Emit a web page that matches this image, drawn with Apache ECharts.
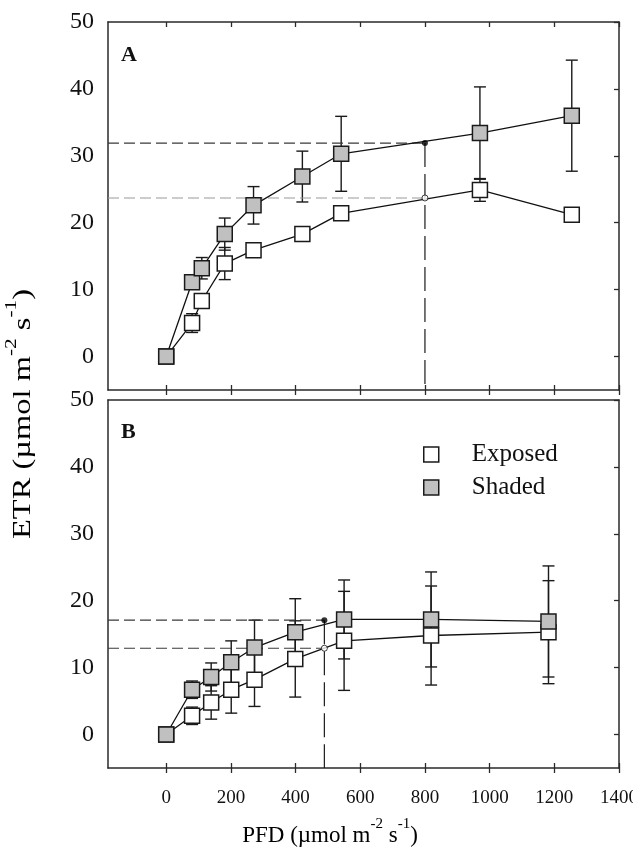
<!DOCTYPE html>
<html><head><meta charset="utf-8">
<script src="https://cdn.jsdelivr.net/npm/echarts@6/dist/echarts.min.js"></script>
<style>html,body{margin:0;padding:0;background:#fff}#c{width:633px;height:848px}</style>
</head><body><div id="c"></div>
<script>
// ---- data ----
const xTicks = [0, 200, 400, 600, 800, 1000, 1200, 1400];
const yTicks = [0, 10, 20, 30, 40, 50];
const rightTicks = [0, 10, 20, 30, 40, 50];

// Panel A
const pfdA = [0, 80, 110, 181, 270, 421, 541, 970, 1254];
const etrA_exposed = [0, 5.0, 8.3, 13.9, 15.9, 18.3, 21.4, 24.9, 21.2];
const errA_exposed = [0, 1.4, 0.9, 2.4, 0.8, 0.7, 0.8, 1.7, 0.8];
const etrA_shaded = [0, 11.1, 13.2, 18.3, 22.6, 26.9, 30.3, 33.4, 36.0];
const errA_shaded = [0, 0.8, 1.6, 2.4, 2.8, 3.8, 5.6, 6.9, 8.3];
const refA_x = 800, refA_shaded = 31.9, refA_exposed = 23.7;

// Panel B
const pfdB = [0, 80, 139, 201, 273, 399, 550, 819, 1182];
const etrB_exposed = [0, 2.8, 4.8, 6.7, 8.2, 11.3, 14.0, 14.8, 15.3];
const errB_exposed = [0, 1.3, 2.5, 3.5, 4.0, 5.7, 7.4, 7.4, 7.7];
const etrB_shaded = [0, 6.7, 8.6, 10.8, 13.0, 15.3, 17.2, 17.2, 16.9];
const errB_shaded = [0, 1.3, 2.1, 3.2, 4.1, 5.0, 5.9, 7.1, 8.3];
const refB_x = 489, refB_shaded = 17.1, refB_exposed = 12.9;

const panelLabels = ['A', 'B'];
const seriesNames = ['Exposed', 'Shaded'];

// ---- chart ----
const FONT = 'Liberation Serif';
const X_MIN = -180, X_MAX = 1400, Y_MIN = -5, Y_MAX = 50;
const AX = '#2a2a2a';
const chart = echarts.init(document.getElementById('c'), null, {renderer: 'canvas'});

const grids = [
  {left: 108, top: 22, width: 511, height: 368, containLabel: false, outerBoundsMode: 'none'},
  {left: 108, top: 400, width: 511, height: 368, containLabel: false, outerBoundsMode: 'none'}
];

const xAxes = [], yAxes = [];
grids.forEach((g, p) => {
  const base = {type: 'value', gridIndex: p, min: X_MIN, max: X_MAX, splitLine: {show: false}};
  xAxes.push(Object.assign({}, base, {
    position: 'bottom',
    axisLine: {show: true, onZero: false, lineStyle: {color: AX, width: 1.5}},
    axisTick: {show: true, inside: false, length: 5, customValues: xTicks, lineStyle: {color: AX, width: 1.3}},
    axisLabel: {show: p === 1, customValues: xTicks, formatter: v => String(v), hideOverlap: false,
                fontFamily: FONT, fontSize: 19, color: '#111', margin: 21}
  }));
  xAxes.push(Object.assign({}, base, {
    position: 'bottom',
    axisLine: {show: false, onZero: false},
    axisTick: {show: true, inside: true, length: 5, customValues: xTicks, lineStyle: {color: AX, width: 1.3}},
    axisLabel: {show: false}
  }));
  xAxes.push(Object.assign({}, base, {
    position: 'top',
    axisLine: {show: true, onZero: false, lineStyle: {color: AX, width: 1.5}},
    axisTick: {show: p === 0, inside: true, length: 5, customValues: xTicks, lineStyle: {color: AX, width: 1.3}},
    axisLabel: {show: false}
  }));
  const ybase = {type: 'value', gridIndex: p, min: Y_MIN, max: Y_MAX, splitLine: {show: false}};
  yAxes.push(Object.assign({}, ybase, {
    position: 'left',
    axisLine: {show: true, onZero: false, lineStyle: {color: AX, width: 1.5}},
    axisTick: {show: false},
    axisLabel: {customValues: yTicks, formatter: v => String(v), fontFamily: FONT, fontSize: 24, color: '#111', margin: 14}
  }));
  yAxes.push(Object.assign({}, ybase, {
    position: 'right',
    axisLine: {show: true, onZero: false, lineStyle: {color: AX, width: 1.5}},
    axisTick: {show: true, inside: true, length: 5, customValues: rightTicks, lineStyle: {color: AX, width: 1.3}},
    axisLabel: {show: false}
  }));
});

function errSeries(p, name, xs, ys, es) {
  const data = [];
  xs.forEach((x, i) => { if (es[i] > 0) data.push([x, ys[i], es[i]]); });
  return {
    type: 'custom', name: name + ' err', xAxisIndex: 3 * p, yAxisIndex: 2 * p,
    silent: true, clip: false,
    data: data,
    renderItem: function (params, api) {
      const x = api.value(0), y = api.value(1), e = api.value(2);
      const hi = api.coord([x, y + e]);
      const lo = api.coord([x, y - e]);
      const w = 6;
      const st = {stroke: '#1a1a1a', lineWidth: 1.4};
      return {type: 'group', children: [
        {type: 'line', shape: {x1: hi[0], y1: hi[1], x2: lo[0], y2: lo[1]}, style: st},
        {type: 'line', shape: {x1: hi[0] - w, y1: hi[1], x2: hi[0] + w, y2: hi[1]}, style: st},
        {type: 'line', shape: {x1: lo[0] - w, y1: lo[1], x2: lo[0] + w, y2: lo[1]}, style: st}
      ]};
    }
  };
}

function lineSeries(p, name, xs, ys, fill) {
  return {
    type: 'line', name: name, xAxisIndex: 3 * p, yAxisIndex: 2 * p,
    data: xs.map((x, i) => [x, ys[i]]),
    symbol: 'rect', symbolSize: 15, showAllSymbol: true,
    lineStyle: {color: '#111', width: 1.3},
    itemStyle: {color: fill, borderColor: '#1a1a1a', borderWidth: 1.5, opacity: 1},
    emphasis: {disabled: true}, animation: false
  };
}

function refSeries(p, rx, ys, ye) {
  const out = [];
  const hcols = p === 0 ? ['#3a3a3a', '#9a9a9a'] : ['#3a3a3a', '#3a3a3a'];
  [ys, ye].forEach((yv, k) => {
    out.push({
      type: 'line', xAxisIndex: 3 * p, yAxisIndex: 2 * p, symbol: 'none', silent: true,
      data: [[X_MIN, yv], [rx, yv]],
      lineStyle: {color: hcols[k], width: 1.1, type: [11, 5]}
    });
  });
  out.push({
    type: 'line', xAxisIndex: 3 * p, yAxisIndex: 2 * p, symbol: 'none', silent: true,
    data: [[rx, ys], [rx, Y_MIN]],
    lineStyle: {color: '#1a1a1a', width: 1.2, type: [24, 7]}
  });
  return out;
}

function dotSeries(p, rx, ys, ye) {
  return [
    {type: 'scatter', xAxisIndex: 3 * p, yAxisIndex: 2 * p, silent: true, symbol: 'circle', symbolSize: 6,
     data: [[rx, ys]], itemStyle: {color: '#000'}, z: 5},
    {type: 'scatter', xAxisIndex: 3 * p, yAxisIndex: 2 * p, silent: true, symbol: 'circle', symbolSize: 6,
     data: [[rx, ye]], itemStyle: {color: '#fff', borderColor: '#111', borderWidth: 1}, z: 5}
  ];
}

const panels = [
  {pfd: pfdA, ex: etrA_exposed, exErr: errA_exposed, sh: etrA_shaded, shErr: errA_shaded, rx: refA_x, rs: refA_shaded, re: refA_exposed},
  {pfd: pfdB, ex: etrB_exposed, exErr: errB_exposed, sh: etrB_shaded, shErr: errB_shaded, rx: refB_x, rs: refB_shaded, re: refB_exposed}
];

let series = [];
panels.forEach((d, p) => {
  series = series.concat(refSeries(p, d.rx, d.rs, d.re));
  series.push(errSeries(p, seriesNames[0], d.pfd, d.ex, d.exErr));
  series.push(lineSeries(p, seriesNames[0], d.pfd, d.ex, '#ffffff'));
  series.push(errSeries(p, seriesNames[1], d.pfd, d.sh, d.shErr));
  series.push(lineSeries(p, seriesNames[1], d.pfd, d.sh, '#c0c0c0'));
  series = series.concat(dotSeries(p, d.rx, d.rs, d.re));
});

const supRich = {
  n: {fontFamily: FONT, fontSize: 23, color: '#111', lineHeight: 30, verticalAlign: 'bottom'},
  s: {fontFamily: FONT, fontSize: 15, color: '#111', lineHeight: 16, verticalAlign: 'top'}
};
const supRichY = {
  n: {fontFamily: FONT, fontSize: 26, color: '#111', lineHeight: 33, verticalAlign: 'bottom'},
  s: {fontFamily: FONT, fontSize: 17, color: '#111', lineHeight: 17, verticalAlign: 'top'}
};

const option = {
  animation: false,
  backgroundColor: '#fff',
  grid: grids,
  xAxis: xAxes,
  yAxis: yAxes,
  legend: {
    orient: 'vertical', left: 418, top: 437, itemWidth: 15, itemHeight: 15, itemGap: 8,
    selectedMode: false,
    textStyle: {fontFamily: FONT, fontSize: 25, color: '#111', padding: [0, 0, 0, 28]},
    data: [
      {name: seriesNames[0], icon: 'rect', itemStyle: {color: '#fff', borderColor: '#1a1a1a', borderWidth: 1.5}},
      {name: seriesNames[1], icon: 'rect', itemStyle: {color: '#c0c0c0', borderColor: '#1a1a1a', borderWidth: 1.5}}
    ]
  },
  graphic: [
    {type: 'text', left: 121, top: 44, style: {text: panelLabels[0], font: 'bold 22px "Liberation Serif"', fill: '#111'}},
    {type: 'text', left: 121, top: 421, style: {text: panelLabels[1], font: 'bold 22px "Liberation Serif"', fill: '#111'}},
    {type: 'text', x: 330, y: 832, style: {text: '{n|PFD (µmol m}{s|-2}{n| s}{s|-1}{n|)}', rich: supRich, align: 'center', verticalAlign: 'middle'}},
    {type: 'text', x: 20, y: 414, rotation: Math.PI / 2, scaleX: 1.25, style: {text: '{n|ETR (µmol m}{s|-2}{n| s}{s|-1}{n|)}', rich: supRichY, align: 'center', verticalAlign: 'middle'}}
  ],
  series: series
};
chart.setOption(option);
</script>
</body></html>
